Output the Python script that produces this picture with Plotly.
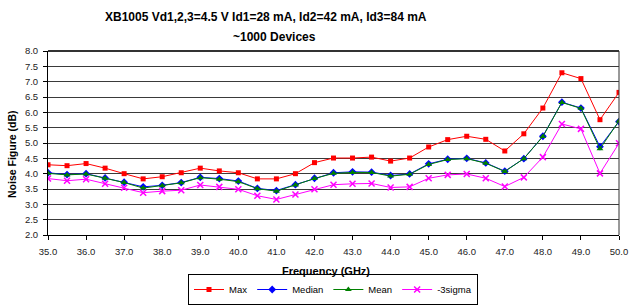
import plotly.graph_objects as go

freq = [35.0, 35.5, 36.0, 36.5, 37.0, 37.5, 38.0, 38.5, 39.0, 39.5, 40.0, 40.5, 41.0, 41.5, 42.0, 42.5,
        43.0, 43.5, 44.0, 44.5, 45.0, 45.5, 46.0, 46.5, 47.0, 47.5, 48.0, 48.5, 49.0, 49.5, 50.0]

nf_max = [4.29, 4.26, 4.33, 4.18, 4.00, 3.83, 3.90, 4.03, 4.18, 4.09, 4.03, 3.83, 3.83, 4.00, 4.36, 4.51,
          4.51, 4.54, 4.41, 4.51, 4.87, 5.11, 5.22, 5.12, 4.74, 5.30, 6.14, 7.29, 7.10, 5.76, 6.65]
nf_median = [4.03, 3.97, 4.00, 3.86, 3.72, 3.57, 3.62, 3.71, 3.88, 3.84, 3.76, 3.52, 3.45, 3.64, 3.85, 4.03,
             4.06, 4.05, 3.94, 3.99, 4.32, 4.47, 4.50, 4.35, 4.08, 4.49, 5.22, 6.33, 6.14, 4.88, 5.70]
nf_mean = [4.01, 3.96, 3.99, 3.85, 3.71, 3.53, 3.61, 3.70, 3.87, 3.82, 3.74, 3.51, 3.43, 3.63, 3.84, 4.01,
           4.04, 4.04, 3.92, 3.98, 4.30, 4.46, 4.49, 4.34, 4.07, 4.49, 5.21, 6.32, 6.13, 4.81, 5.72]
nf_3sigma = [3.84, 3.77, 3.82, 3.67, 3.54, 3.38, 3.43, 3.46, 3.63, 3.57, 3.49, 3.28, 3.16, 3.32, 3.49, 3.64,
             3.67, 3.68, 3.55, 3.57, 3.85, 3.96, 3.99, 3.85, 3.58, 3.88, 4.54, 5.62, 5.46, 4.01, 4.99]

x_ticks = [35.0, 36.0, 37.0, 38.0, 39.0, 40.0, 41.0, 42.0, 43.0, 44.0, 45.0, 46.0, 47.0, 48.0, 49.0, 50.0]
y_ticks = [2.0, 2.5, 3.0, 3.5, 4.0, 4.5, 5.0, 5.5, 6.0, 6.5, 7.0, 7.5, 8.0]

title_line1 = "XB1005 Vd1,2,3=4.5 V Id1=28 mA, Id2=42 mA, Id3=84 mA"
title_line2 = "~1000 Devices"
x_title = "Frequency (GHz)"
y_title = "Noise Figure (dB)"

FONT = "Liberation Sans, Arial, sans-serif"

series = [
    ("Max", nf_max, "#ff0000", "square", 5),
    ("Median", nf_median, "#0000ff", "diamond", 6),
    ("Mean", nf_mean, "#008000", "triangle-up", 6),
    ("-3sigma", nf_3sigma, "#ff00ff", "x-thin-open", 6),
]

fig = go.Figure()
for name, ys, color, sym, sz in series:
    fig.add_trace(go.Scatter(
        x=freq, y=ys, name=name, mode="lines+markers",
        line=dict(color=color, width=1),
        marker=dict(symbol=sym, size=sz, color=color, line=dict(color=color, width=1.5 if "x" in sym else 0)),
    ))

PW, PH = 571, 184  # plot area size in px

fig.update_layout(
    width=630, height=307,
    margin=dict(l=48, r=11, t=51, b=72),
    paper_bgcolor="white", plot_bgcolor="white",
    font=dict(family=FONT, size=10, color="black"),
    showlegend=True,
    legend=dict(
        orientation="h", x=(333 - 48) / PW, xanchor="center",
        yref="container", y=1 - 305 / 307, yanchor="bottom",
        bordercolor="black", borderwidth=1, bgcolor="white",
        font=dict(family=FONT, size=9.5, color="black"),
        itemwidth=30, tracegroupgap=0,
    ),
    xaxis=dict(
        range=[35, 50], tickvals=x_ticks, ticktext=[f"{v:.1f}" for v in x_ticks],
        showgrid=False, zeroline=False, automargin=False,
        showline=True, linecolor="black", linewidth=1, mirror=False,
        ticks="outside", ticklen=4, tickcolor="black", ticklabelstandoff=4,
        tickfont=dict(family=FONT, size=9.5, color="#222"),
    ),
    yaxis=dict(
        range=[2, 8], tickvals=y_ticks, ticktext=[f"{v:.1f}" for v in y_ticks],
        showgrid=True, gridcolor="#3a3a3a", gridwidth=1, zeroline=False, automargin=False,
        showline=True, linecolor="black", linewidth=1, mirror=False,
        ticks="outside", ticklen=4, tickcolor="black", ticklabelstandoff=3,
        tickfont=dict(family=FONT, size=9.5, color="#222"),
    ),
    annotations=[
        dict(text=f"<b>{title_line1}</b>", xref="paper", yref="paper", x=(266 - 48) / PW, y=1 + (51 - 17) / PH,
             xanchor="center", yanchor="middle", showarrow=False, font=dict(family=FONT, size=12, color="black")),
        dict(text=f"<b>{title_line2}</b>", xref="paper", yref="paper", x=(274 - 48) / PW, y=1 + (51 - 37) / PH,
             xanchor="center", yanchor="middle", showarrow=False, font=dict(family=FONT, size=12, color="black")),
        dict(text=f"<b>{x_title}</b>", xref="paper", yref="paper", x=(326 - 48) / PW, y=-(271 - 235) / PH,
             xanchor="center", yanchor="middle", showarrow=False, font=dict(family=FONT, size=11, color="black")),
        dict(text=f"<b>{y_title}</b>", xref="paper", yref="paper", x=(12 - 48) / PW, y=(235 - 154) / PH,
             xanchor="center", yanchor="middle", textangle=-90, showarrow=False,
             font=dict(family=FONT, size=10.5, color="black")),
    ],
    shapes=[
        dict(type="line", xref="paper", yref="paper", x0=0, x1=1, y0=1, y1=1, line=dict(color="#333", width=2)),
        dict(type="line", xref="paper", yref="paper", x0=1, x1=1, y0=0, y1=1, line=dict(color="#333", width=1)),
    ],
)

fig.write_html("out.html", config={"displayModeBar": False},
               post_script="document.body.style.margin='0';document.body.style.overflow='hidden';")
